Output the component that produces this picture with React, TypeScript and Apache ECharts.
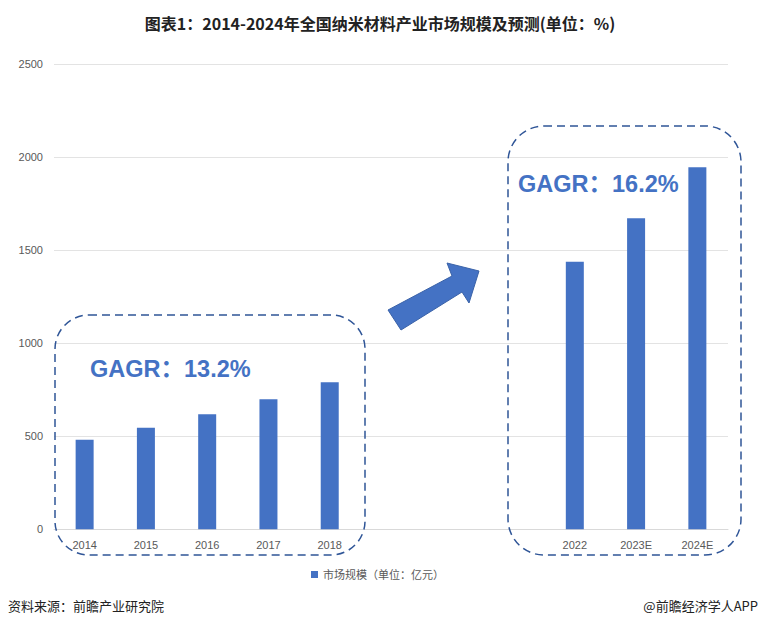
import React, { useEffect, useRef } from "react";
import * as echarts from "echarts";

const categories = ["2014", "2015", "2016", "2017", "2018", "", " ", "  ", "2022", "2023E", "2024E"];
const marketSize = [482, 546, 618, 699, 790, null, null, null, 1439, 1672, 1946];
const yTicks = { min: 0, max: 2500, interval: 500 };
const titleText = "图表1：2014-2024年全国纳米材料产业市场规模及预测(单位：%)";
const seriesName = "市场规模（单位：亿元）";
const cagrLeft = "GAGR：13.2%";
const cagrRight = "GAGR：16.2%";
const sourceText = "资料来源：前瞻产业研究院";
const brandText = "@前瞻经济学人APP";

const FONT = '"Liberation Sans", "Noto Sans CJK SC", sans-serif';
const BLUE = "#4472C4";
const DASH = "#2F5597";

export default function App() {
  const ref = useRef<HTMLDivElement>(null);
  useEffect(() => {
    document.body.style.margin = "0";
    const chart = echarts.init(ref.current!, undefined, { renderer: "svg" });
    chart.setOption({
      animation: false,
      backgroundColor: "#ffffff",
      textStyle: { fontFamily: FONT },
      title: {
        text: titleText,
        left: "center",
        top: 10,
        textStyle: { fontSize: 16, fontWeight: "bold", color: "#222", fontFamily: '"Noto Sans CJK SC", sans-serif' },
      },
      grid: { left: 54, right: 32, top: 64.3, bottom: 96.7, containLabel: false },
      legend: {
        data: [seriesName],
        left: 306,
        top: 564,
        icon: "rect",
        itemWidth: 7,
        itemHeight: 7,
        itemGap: 4,
        textStyle: { fontSize: 11, color: "#595959", fontFamily: FONT },
      },
      xAxis: {
        type: "category",
        data: categories,
        axisTick: { show: false },
        axisLine: { lineStyle: { color: "#d9d9d9" } },
        axisLabel: { color: "#595959", fontSize: 11, margin: 10, interval: 0 },
      },
      yAxis: {
        type: "value",
        min: yTicks.min,
        max: yTicks.max,
        interval: yTicks.interval,
        axisLine: { show: false },
        axisTick: { show: false },
        axisLabel: { color: "#595959", fontSize: 11, margin: 11, formatter: (v: number) => String(v) },
        splitLine: { lineStyle: { color: "#e3e3e3" } },
      },
      series: [
        {
          name: seriesName,
          type: "bar",
          data: marketSize,
          barWidth: 18,
          itemStyle: { color: BLUE },
        },
      ],
      graphic: [
        {
          type: "rect",
          shape: { x: 55, y: 315, width: 310, height: 240, r: 34 },
          style: { fill: "none", stroke: DASH, lineWidth: 1.5, lineDash: [8, 5] },
          z: 10,
        },
        {
          type: "rect",
          shape: { x: 508, y: 126, width: 233, height: 429, r: 36 },
          style: { fill: "none", stroke: DASH, lineWidth: 1.5, lineDash: [8, 5] },
          z: 10,
        },
        {
          type: "polygon",
          shape: {
            points: [
              [388, 310],
              [401, 330],
              [462, 292],
              [469, 303],
              [479, 271],
              [447, 263],
              [452, 276],
            ],
          },
          style: { fill: BLUE, stroke: "#3a62a8", lineWidth: 1 },
          z: 10,
        },
        {
          type: "text",
          x: 90,
          y: 369,
          style: {
            text: cagrLeft,
            fill: BLUE,
            font: 'bold 23.5px "Liberation Sans", "Noto Sans CJK SC", sans-serif',
            verticalAlign: "middle",
          },
          z: 10,
        },
        {
          type: "text",
          x: 518,
          y: 184,
          style: {
            text: cagrRight,
            fill: BLUE,
            font: 'bold 23.5px "Liberation Sans", "Noto Sans CJK SC", sans-serif',
            verticalAlign: "middle",
          },
          z: 10,
        },
        {
          type: "text",
          x: 8,
          y: 605,
          style: {
            text: sourceText,
            fill: "#222",
            font: '13px "Noto Sans CJK SC", sans-serif',
            verticalAlign: "middle",
          },
        },
        {
          type: "text",
          x: 758,
          y: 605,
          style: {
            text: brandText,
            fill: "#222",
            font: '13px "Noto Sans CJK SC", sans-serif',
            align: "right",
            verticalAlign: "middle",
          },
        },
      ],
    });
    return () => chart.dispose();
  }, []);
  return <div ref={ref} style={{ width: 760, height: 626 }} />;
}
